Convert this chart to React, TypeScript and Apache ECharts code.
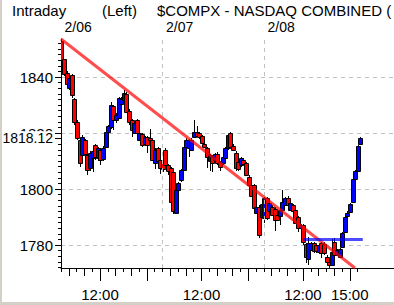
import React, { useEffect, useRef } from "react";
import * as echarts from "echarts";

// ---- data (10-minute bars, 3 sessions of 39 bars) ----
const opens = [
  1853, 1846.3, 1841.5, 1836, 1840.7, 1832, 1824, 1817.5, 1812, 1817.5, 1812, 1807.5, 1811, 1815.7, 1811, 1814, 1810.8, 1815.2, 1820.5, 1822.3,
  1829.6, 1824.6, 1825.4, 1830.5, 1831.8, 1834, 1828, 1824.6, 1820, 1824.6, 1817.5, 1819.5, 1816, 1818.5, 1818.4, 1817.5, 1809.2, 1814.6, 1810.5,
  1810, 1813.8, 1808.5, 1807.5, 1806, 1791.5, 1799.6, 1803.2, 1806.8, 1815, 1814.5, 1814, 1818.7, 1820.5, 1820, 1818.9, 1816, 1814.5, 1810, 1811.5,
  1810.5, 1812.7, 1809.5, 1809.2, 1811, 1814.5, 1819.9, 1815.5, 1813, 1809.5, 1808.5, 1810.5, 1809.2, 1804.4, 1801.5, 1801.4, 1791.5, 1793.7, 1790,
  1789.6, 1796.8, 1792, 1793.7, 1793, 1790.7, 1790.5, 1792.5, 1794.3, 1796.8, 1792.5, 1794.3, 1792.5, 1790, 1786, 1787, 1780.4, 1775, 1778.2, 1780.7,
  1780, 1777.4, 1780.7, 1780.5, 1775.8, 1774, 1772.9, 1781, 1776.5, 1775.8, 1779.4, 1784.8, 1790.2, 1791.9, 1795.5, 1803.5, 1806.5, 1816.1,
];
const closes = [
  1846, 1841, 1837.4, 1839.6, 1833.6, 1824, 1818.2, 1809.3, 1818.6, 1812.5, 1806.8, 1813, 1813.5, 1811.4, 1814.5, 1810.5, 1814.8, 1820.5, 1822.5, 1830,
  1824.6, 1826.5, 1832.5, 1832.2, 1834.2, 1827.6, 1824, 1821, 1823.7, 1820, 1820, 1815.7, 1818.5, 1815.7, 1817.4, 1810.4, 1814, 1810, 1807.5,
  1807, 1808.5, 1806.5, 1795.4, 1792, 1799.6, 1802, 1806.8, 1815, 1817.7, 1817.7, 1817.7, 1820.5, 1819, 1818.7, 1816.5, 1815, 1811.5, 1812, 1809.3,
  1812.5, 1809.2, 1807.8, 1811.5, 1814.5, 1819.3, 1815, 1814, 1807.4, 1807, 1811, 1809, 1805, 1801.4, 1797.5, 1793.2, 1793.5, 1783.6, 1794.5,
  1796.8, 1789.6, 1795, 1790.7, 1789, 1789, 1792.5, 1795.4, 1796.8, 1794.3, 1795, 1792, 1787.9, 1786, 1787, 1781, 1775.8, 1780.7, 1780.7, 1777.7,
  1777.7, 1780, 1777.2, 1777, 1774, 1772.9, 1777.6, 1776.4, 1778.2, 1778.6, 1784.3, 1790, 1791.6, 1794.6, 1803.5, 1806.3, 1815.4, 1818.12,
];
const lows = [
  1845.5, 1840.5, 1836.5, 1835.5, 1832.5, 1823, 1817.5, 1808, 1811, 1811.5, 1805, 1806.5, 1806, 1810.5, 1810, 1808.5, 1810, 1814.5, 1819.5, 1821.5,
  1821, 1823.5, 1825, 1829.5, 1831, 1827, 1823, 1818.5, 1819.5, 1817.5, 1817, 1815, 1815.5, 1813, 1816.5, 1810, 1807, 1809, 1805.5,
  1806, 1807.5, 1805, 1794.5, 1791, 1791, 1799, 1802.5, 1806.3, 1814.5, 1811.5, 1813.5, 1818.2, 1818.5, 1818, 1816, 1814.5, 1807.5, 1806.5, 1806,
  1810, 1808.7, 1806.5, 1808.7, 1810.5, 1814, 1814.5, 1813.5, 1806.5, 1806.5, 1808, 1808.5, 1804.5, 1801, 1797, 1792, 1791, 1782.5, 1789.5,
  1788, 1789, 1791.5, 1790.2, 1785, 1788.5, 1787, 1792, 1793.8, 1793.8, 1792, 1791.5, 1787.4, 1784.5, 1785.5, 1780, 1773.5, 1773, 1777.7, 1777.2,
  1777.2, 1776.9, 1775.5, 1776.5, 1773.5, 1771.9, 1772.4, 1775.9, 1776, 1775.3, 1778.9, 1784.3, 1789.7, 1791.4, 1795, 1803, 1806, 1815.6,
];
const highs = [
  1853.5, 1846.5, 1842, 1840, 1841, 1832.5, 1824.5, 1818, 1819.2, 1818, 1812.5, 1813.5, 1814, 1816, 1815, 1814.5, 1815.5, 1821, 1823, 1831,
  1830, 1827, 1833, 1833, 1835.3, 1834.5, 1828.5, 1825, 1824.2, 1825, 1820.5, 1820, 1819, 1819, 1821.5, 1818, 1814.5, 1815, 1811,
  1811, 1814.5, 1809, 1808, 1806.5, 1800, 1802.5, 1807.2, 1815.5, 1818.2, 1818, 1818.2, 1824.6, 1822.5, 1820.5, 1819.3, 1816.5, 1815, 1812.5, 1812,
  1813, 1813.2, 1810, 1812, 1815, 1819.8, 1820.5, 1816, 1813.5, 1810, 1811.5, 1811, 1809.7, 1805, 1802, 1801.9, 1794, 1794.2, 1795,
  1797.3, 1797.3, 1795.5, 1794.2, 1793.5, 1791.2, 1793, 1799.6, 1797.3, 1797.5, 1795.5, 1794.8, 1793, 1790.5, 1787.5, 1787.5, 1780.9, 1783, 1781.2, 1781.2,
  1780.5, 1780.5, 1781.2, 1781, 1776.3, 1774.5, 1782, 1782.5, 1778.7, 1779.1, 1784.8, 1790.5, 1792.1, 1795.1, 1804, 1806.8, 1815.9, 1818.6,
];

const barsPerDay = 39;
const dayStarts = [0, 39, 78];
const dayLabels = ["2/06", "2/07", "2/08"];
const timeLabels = ["12:00", "12:00", "12:00", "15:00"];
const timeLabelBars = [15, 54, 93, 111];
const longTickBars = [15, 33, 54, 72, 93, 111];
const yTickValues = [1780, 1800, 1820, 1840];
const lastPrice = 1818.12;
const trendLine = [[0, 1853.6], [113, 1771.8]];
const supportLine = [[93, 1782], [116, 1782]];

const headerTexts = ["Intraday", "(Left)", "$COMPX - NASDAQ COMBINED ("];

const X_MAX = 128;
const Y_MIN = 1771.8;
const Y_MAX = 1853.6;
const FONT = "'Liberation Sans', sans-serif";

export default function App() {
  const ref = useRef<HTMLDivElement>(null);
  useEffect(() => {
    if (!ref.current) return;
    const chart = echarts.init(ref.current, undefined, { renderer: "svg" });

    const candles = opens.map((o, i) => [i + 0.5, o, closes[i], lows[i], highs[i]]);
    const halfHourTicks: number[] = [];
    for (let v = 0; v <= 114; v += 3) halfHourTicks.push(v);
    const hourTicks: number[] = [];
    for (let d = 0; d < dayStarts.length; d++) for (let k = 3; k < barsPerDay; k += 6) hourTicks.push(dayStarts[d] + k);
    const minorY: number[] = [];
    for (let v = 1772; v <= 1852; v += 2) minorY.push(v);
    const dateLabelBars = dayStarts.map((d) => d + 6.6);

    const baseX: any = {
      type: "value",
      min: 0,
      max: X_MAX,
      position: "bottom",
      splitLine: { show: false },
      axisLine: { show: false },
      axisLabel: { show: false },
      axisTick: { show: false },
    };
    const baseY: any = {
      type: "value",
      min: Y_MIN,
      max: Y_MAX,
      position: "left",
      axisLine: { show: false },
      axisLabel: { show: false },
      axisTick: { show: false },
      splitLine: { show: false },
    };
    const blk = { color: "#000", width: 1 };

    const option: any = {
      animation: false,
      backgroundColor: "#ffffff",
      grid: { left: 61, right: 0, top: 39, bottom: 37, containLabel: false, outerBoundsMode: "none" },
      graphic: [
        { type: "rect", left: 0, top: 0, shape: { x: 0, y: 0, width: 2, height: 305 }, style: { fill: "#d4d0c8" }, z: 100 },
        { type: "rect", left: 0, top: 302, shape: { x: 0, y: 0, width: 394, height: 3 }, style: { fill: "#d4d0c8" }, z: 100 },
        { type: "text", left: 12, top: 3, style: { text: headerTexts[0], fontSize: 15, fontFamily: FONT, fill: "#000" } },
        { type: "text", left: 102, top: 3, style: { text: headerTexts[1], fontSize: 15, fontFamily: FONT, fill: "#000" } },
        { type: "text", left: 157, top: 3, style: { text: headerTexts[2], fontSize: 15, fontFamily: FONT, fill: "#000" } },
      ],
      xAxis: [
        {
          ...baseX,
          axisLine: { show: true, onZero: false, lineStyle: blk },
          axisTick: { show: true, customValues: halfHourTicks, length: 4, lineStyle: blk },
        },
        { ...baseX, axisTick: { show: true, customValues: hourTicks, length: 8, lineStyle: blk } },
        {
          ...baseX,
          axisTick: { show: true, customValues: longTickBars, length: 13, lineStyle: blk },
          axisLabel: {
            show: true,
            customValues: timeLabelBars,
            formatter: (v: number) => timeLabels[timeLabelBars.indexOf(v)] ?? "",
            color: "#000",
            fontSize: 15,
            fontFamily: FONT,
            margin: 19,
          },
        },
        {
          ...baseX,
          position: "top",
          axisLabel: {
            show: true,
            customValues: dateLabelBars,
            formatter: (v: number) => dayLabels[dateLabelBars.indexOf(v)] ?? "",
            color: "#000",
            fontSize: 14,
            fontFamily: FONT,
            margin: 5,
          },
        },
      ],
      yAxis: [
        {
          ...baseY,
          axisLine: { show: true, lineStyle: blk },
          axisTick: { show: true, customValues: yTickValues, length: 6, lineStyle: blk },
          axisLabel: {
            show: true,
            customValues: yTickValues,
            formatter: (v: number) => String(v),
            color: "#000",
            fontSize: 15,
            fontFamily: FONT,
            margin: 8,
          },
          splitLine: { show: true, lineStyle: { color: "#c0c0c0", width: 1, type: [4, 4] } },
        },
        {
          ...baseY,
          axisTick: { show: true, customValues: minorY, length: 3, lineStyle: blk },
        },
        {
          ...baseY,
          z: 10,
          axisTick: { show: true, customValues: [lastPrice], length: 6, lineStyle: blk },
          axisLabel: {
            show: true,
            customValues: [lastPrice],
            formatter: (v: number) => v.toFixed(2),
            color: "#000",
            fontSize: 14,
            fontFamily: FONT,
            margin: 7,
            backgroundColor: "#ffffff",
            padding: [0, 1, 0, 1],
          },
        },
      ],
      series: [
        {
          type: "custom",
          xAxisIndex: 0,
          yAxisIndex: 0,
          encode: { x: 0, y: [1, 2, 3, 4] },
          data: candles,
          clip: true,
          z: 3,
          renderItem: (params: any, api: any) => {
            const x = api.value(0);
            const o = api.value(1);
            const c = api.value(2);
            const l = api.value(3);
            const h = api.value(4);
            const pO = api.coord([x, o]);
            const pC = api.coord([x, c]);
            const pL = api.coord([x, l]);
            const pH = api.coord([x, h]);
            const cx = Math.round(pO[0]);
            const top = Math.round(Math.min(pO[1], pC[1]));
            const bot = Math.round(Math.max(pO[1], pC[1]));
            const up = c >= o;
            return {
              type: "group",
              children: [
                {
                  type: "line",
                  shape: { x1: cx - 0.5, y1: Math.round(pH[1]), x2: cx - 0.5, y2: Math.round(pL[1]) },
                  style: { stroke: "#000", lineWidth: 1 },
                },
                {
                  type: "rect",
                  shape: { x: cx - 2.5, y: top + 0.5, width: 4, height: Math.max(bot - top, 1) },
                  style: { fill: up ? "#0000ff" : "#ff0000", stroke: "#000", lineWidth: 1 },
                },
              ],
            };
          },
        },
        {
          type: "line",
          data: trendLine,
          symbol: "none",
          z: 5,
          lineStyle: { color: "rgba(255,0,0,0.7)", width: 3 },
          silent: true,
        },
        {
          type: "line",
          data: supportLine,
          symbol: "none",
          z: 5,
          lineStyle: { color: "rgba(0,0,255,0.7)", width: 3 },
          silent: true,
          markLine: {
            silent: true,
            symbol: ["none", "none"],
            label: { show: false },
            lineStyle: { color: "#c0c0c0", width: 1, type: [4, 4] },
            data: [{ xAxis: dayStarts[1] }, { xAxis: dayStarts[2] }],
          },
        },
      ],
    };
    chart.setOption(option);
    return () => chart.dispose();
  }, []);
  return (
    <div style={{ position: "fixed", left: 0, top: 0, width: 394, height: 305, background: "#fff" }}>
      <div ref={ref} style={{ width: 394, height: 305 }} />
    </div>
  );
}
